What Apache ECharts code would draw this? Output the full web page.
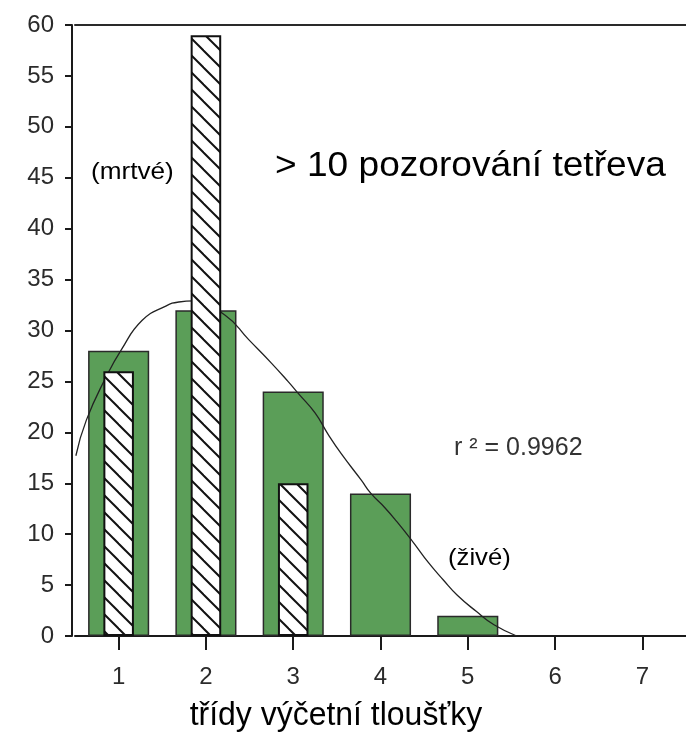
<!DOCTYPE html>
<html>
<head>
<meta charset="utf-8">
<script src="https://cdn.jsdelivr.net/npm/echarts@6/dist/echarts.min.js"></script>
<style>
  html, body { margin: 0; padding: 0; background: #fff; }
  #chart { width: 686px; height: 734px; }
</style>
</head>
<body>
<div id="chart"></div>
<script>
// Diameter classes (x axis tick labels)
const classes = ['1', '2', '3', '4', '5', '6', '7'];
// Living trees per class (green bars)
const liveCounts = [28, 32, 24, 14, 2, null, null];
// Dead trees per class (hatched bars)
const deadCounts = [26, 59, 15, null, null, null, null];
// Fitted trend curve through the live counts, [class, count]
const fitCurve = [
  [0.51, 17.7], [0.63, 21.2], [0.86, 25.5], [1.03, 28.1], [1.27, 31.0],
  [1.54, 32.4], [1.69, 32.8], [1.86, 32.9], [2.22, 31.5], [2.49, 29.1],
  [2.75, 26.8], [2.94, 25.0], [3.06, 23.8], [3.25, 21.9], [3.40, 19.8],
  [3.55, 17.9], [3.78, 15.3], [3.89, 14.0], [4.05, 12.6], [4.19, 11.2],
  [4.375, 9.2], [4.55, 7.2], [4.72, 5.5], [4.88, 4.0], [5.10, 2.4],
  [5.30, 1.1], [5.56, 0.0]
];
// Value axis range
const yMin = 0, yMax = 60, yStep = 5;

const FONT = '"Liberation Sans", Arial, sans-serif';

// Diagonal "\" hatch used for the dead-tree bars
function hatchPattern() {
  const s = 17;
  const c = document.createElement('canvas');
  c.width = s; c.height = s;
  const ctx = c.getContext('2d');
  ctx.fillStyle = '#ffffff';
  ctx.fillRect(0, 0, s, s);
  ctx.strokeStyle = '#111111';
  ctx.lineWidth = 2;
  for (const k of [-s, 0, s]) {
    ctx.beginPath();
    ctx.moveTo(k - 1, -1);
    ctx.lineTo(k + s + 1, s + 1);
    ctx.stroke();
  }
  return { image: c, repeat: 'repeat' };
}

const chart = echarts.init(document.getElementById('chart'), null, { renderer: 'canvas' });

const axisLabelStyle = { color: '#2b2b2b', fontFamily: FONT, fontSize: 24 };

chart.setOption({
  animation: false,
  backgroundColor: '#ffffff',
  grid: { left: 75, right: -5, top: 25, bottom: 98 },
  xAxis: [
    {
      type: 'category',
      data: classes,
      position: 'bottom',
      boundaryGap: true,
      axisLine: { show: true, lineStyle: { color: '#1a1a1a', width: 2 } },
      axisTick: { show: true, alignWithLabel: true, length: 14, lineStyle: { color: '#1a1a1a', width: 2 } },
      axisLabel: Object.assign({ margin: 29 }, axisLabelStyle),
      splitLine: { show: false }
    },
    {
      type: 'category',
      data: classes,
      position: 'top',
      boundaryGap: true,
      axisLine: { show: true, lineStyle: { color: '#2a2a2a', width: 2 } },
      axisTick: { show: false },
      axisLabel: { show: false },
      splitLine: { show: false }
    },
    {
      type: 'value',
      min: 0.5,
      max: 7.5,
      show: false
    }
  ],
  yAxis: {
    type: 'value',
    min: yMin,
    max: yMax,
    interval: yStep,
    offset: 3,
    axisLine: { show: true, onZero: false, lineStyle: { color: '#1a1a1a', width: 2 } },
    axisTick: { show: true, length: 7, lineStyle: { color: '#1a1a1a', width: 2 } },
    axisLabel: Object.assign({ margin: 18 }, axisLabelStyle),
    splitLine: { show: false }
  },
  series: [
    {
      name: 'živé',
      type: 'bar',
      xAxisIndex: 0,
      data: liveCounts,
      barWidth: '70%',
      z: 2,
      itemStyle: { color: '#5b9e58', borderColor: '#2a2a2a', borderWidth: 1.5 }
    },
    {
      name: 'trend',
      type: 'line',
      xAxisIndex: 2,
      data: fitCurve,
      smooth: 0.5,
      showSymbol: false,
      z: 3,
      lineStyle: { color: '#222', width: 1.3 }
    },
    {
      name: 'mrtvé',
      type: 'bar',
      xAxisIndex: 1,
      data: deadCounts,
      barWidth: '35%',
      z: 4,
      itemStyle: { color: hatchPattern(), borderColor: '#111', borderWidth: 2 }
    }
  ],
  graphic: [
    {
      type: 'text', x: 275, y: 166, scaleX: 1.06,
      style: { text: '> 10 pozorování tetřeva', fontFamily: FONT, fontSize: 35, fill: '#000',
               align: 'left', verticalAlign: 'middle', textAlign: 'left', textVerticalAlign: 'middle' }
    },
    {
      type: 'text', x: 91, y: 172, scaleX: 1.09,
      style: { text: '(mrtvé)', fontFamily: FONT, fontSize: 24, fill: '#000',
               align: 'left', verticalAlign: 'middle', textAlign: 'left', textVerticalAlign: 'middle' }
    },
    {
      type: 'text', x: 448, y: 558, scaleX: 1.07,
      style: { text: '(živé)', fontFamily: FONT, fontSize: 24, fill: '#000',
               align: 'left', verticalAlign: 'middle', textAlign: 'left', textVerticalAlign: 'middle' }
    },
    {
      type: 'text', x: 454, y: 448,
      style: { text: 'r ² = 0.9962', fontFamily: FONT, fontSize: 25, fill: '#333',
               align: 'left', verticalAlign: 'middle', textAlign: 'left', textVerticalAlign: 'middle' }
    },
    {
      type: 'text', x: 336, y: 716, scaleX: 0.94,
      style: { text: 'třídy výčetní tloušťky', fontFamily: FONT, fontSize: 34, fill: '#000',
               align: 'center', verticalAlign: 'middle', textAlign: 'center', textVerticalAlign: 'middle' }
    }
  ]
});
</script>
</body>
</html>
